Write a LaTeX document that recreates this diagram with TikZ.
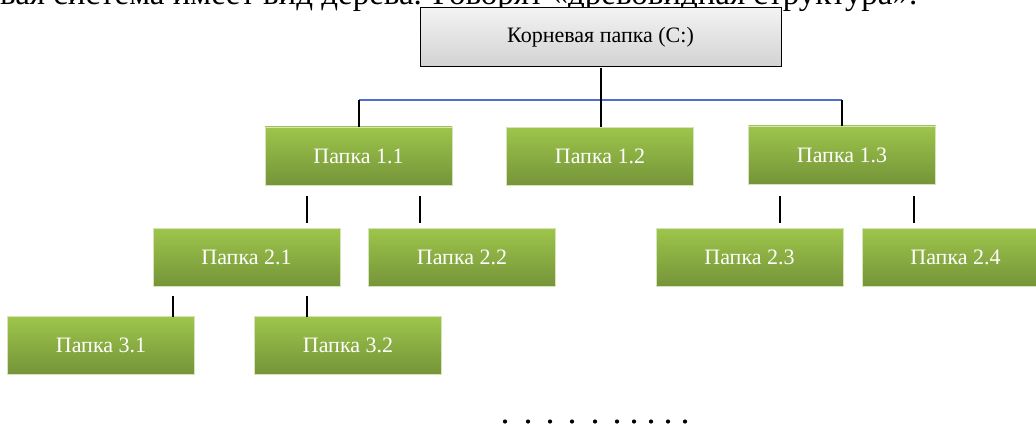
\documentclass[tikz,border=0pt]{standalone}
\usepackage{fontspec}
\setmainfont{Liberation Serif}
\usetikzlibrary{calc}
\definecolor{gtop}{RGB}{157,197,75}
\definecolor{gbot}{RGB}{117,148,57}
\definecolor{gedge}{RGB}{214,228,186}
\definecolor{rtop}{RGB}{243,243,243}
\definecolor{rbot}{RGB}{210,210,210}
\definecolor{hline}{RGB}{80,110,205}
\tikzset{
  folder/.style={minimum width=187pt, minimum height=58pt, inner sep=0pt,
    top color=gtop, bottom color=gbot, draw=gedge, line width=0.8pt,
    text=white, font=\fontsize{22}{26}\selectfont},
  rootbox/.style={minimum width=361pt, minimum height=59pt, inner sep=0pt,
    top color=rtop, bottom color=rbot, draw=black, line width=1pt,
    text=black, font=\fontsize{22}{26}\selectfont},
  conn/.style={draw=black, line width=2pt},
  bus/.style={draw=hline, line width=1.2pt},
  dotmark/.style={fill=black, draw=none}
}
\begin{document}
\begin{tikzpicture}[x=1pt,y=-1pt]
\clip (0,0) rectangle (1036,425);
\useasboundingbox (0,0) rectangle (1036,425);
% cut-off line of text above the diagram (cut in the reference as well)
\node[anchor=base west, inner sep=0pt] (toptext) at (0,5)
  {\resizebox{917pt}{!}{\fontsize{26}{30}\selectfont вая система имеет вид дерева. Говорят «древовидная структура».}};
% nodes
\node[rootbox] (root) at (600.5,37.5) {Корневая папка (С:)};
\node[folder] (p11) at (358.5,156) {Папка 1.1};
\node[folder] (p12) at (600,156.5) {Папка 1.2};
\node[folder] (p13) at (842,155) {Папка 1.3};
\node[folder] (p21) at (246.5,257.5) {Папка 2.1};
\node[folder] (p22) at (462,257.5) {Папка 2.2};
\node[folder] (p23) at (749.5,257.5) {Папка 2.3};
\node[folder] (p24) at (955.5,257.5) {Папка 2.4};
\node[folder] (p31) at (101,345.5) {Папка 3.1};
\node[folder] (p32) at (348,345.5) {Папка 3.2};
% level 1 connectors
\coordinate (hub) at (600,100);
\draw[bus] (p11.north |- hub) -- (p13.north |- hub);
\draw[conn] ([yshift=-1pt]root.south) -- (root.south |- p12.north);
\draw[conn] (p11.north |- hub) -- (p11.north);
\draw[conn] (p13.north |- hub) -- (p13.north);
% level 2 connectors
\draw[conn] ($(p11.south)+(-51.5,11)$) -- ($(p11.south)+(-51.5,38)$);
\draw[conn] ($(p11.south)+(61.5,11)$) -- ($(p11.south)+(61.5,38)$);
\draw[conn] ($(p13.south)+(-62,12)$) -- ($(p13.south)+(-62,39)$);
\draw[conn] ($(p13.south)+(72,12)$) -- ($(p13.south)+(72,39)$);
% level 3 connectors
\draw[conn] ($(p21.south)+(-73.5,9)$) -- ($(p21.south)+(-73.5,30)$);
\draw[conn] ($(p21.south)+(60.5,9)$) -- ($(p21.south)+(60.5,30)$);
% dots
\foreach \x in {505,528,550,572,595,617,634,651,668,685}
  \fill[dotmark] (\x,421.5) circle (2.1pt);
\end{tikzpicture}
\end{document}
